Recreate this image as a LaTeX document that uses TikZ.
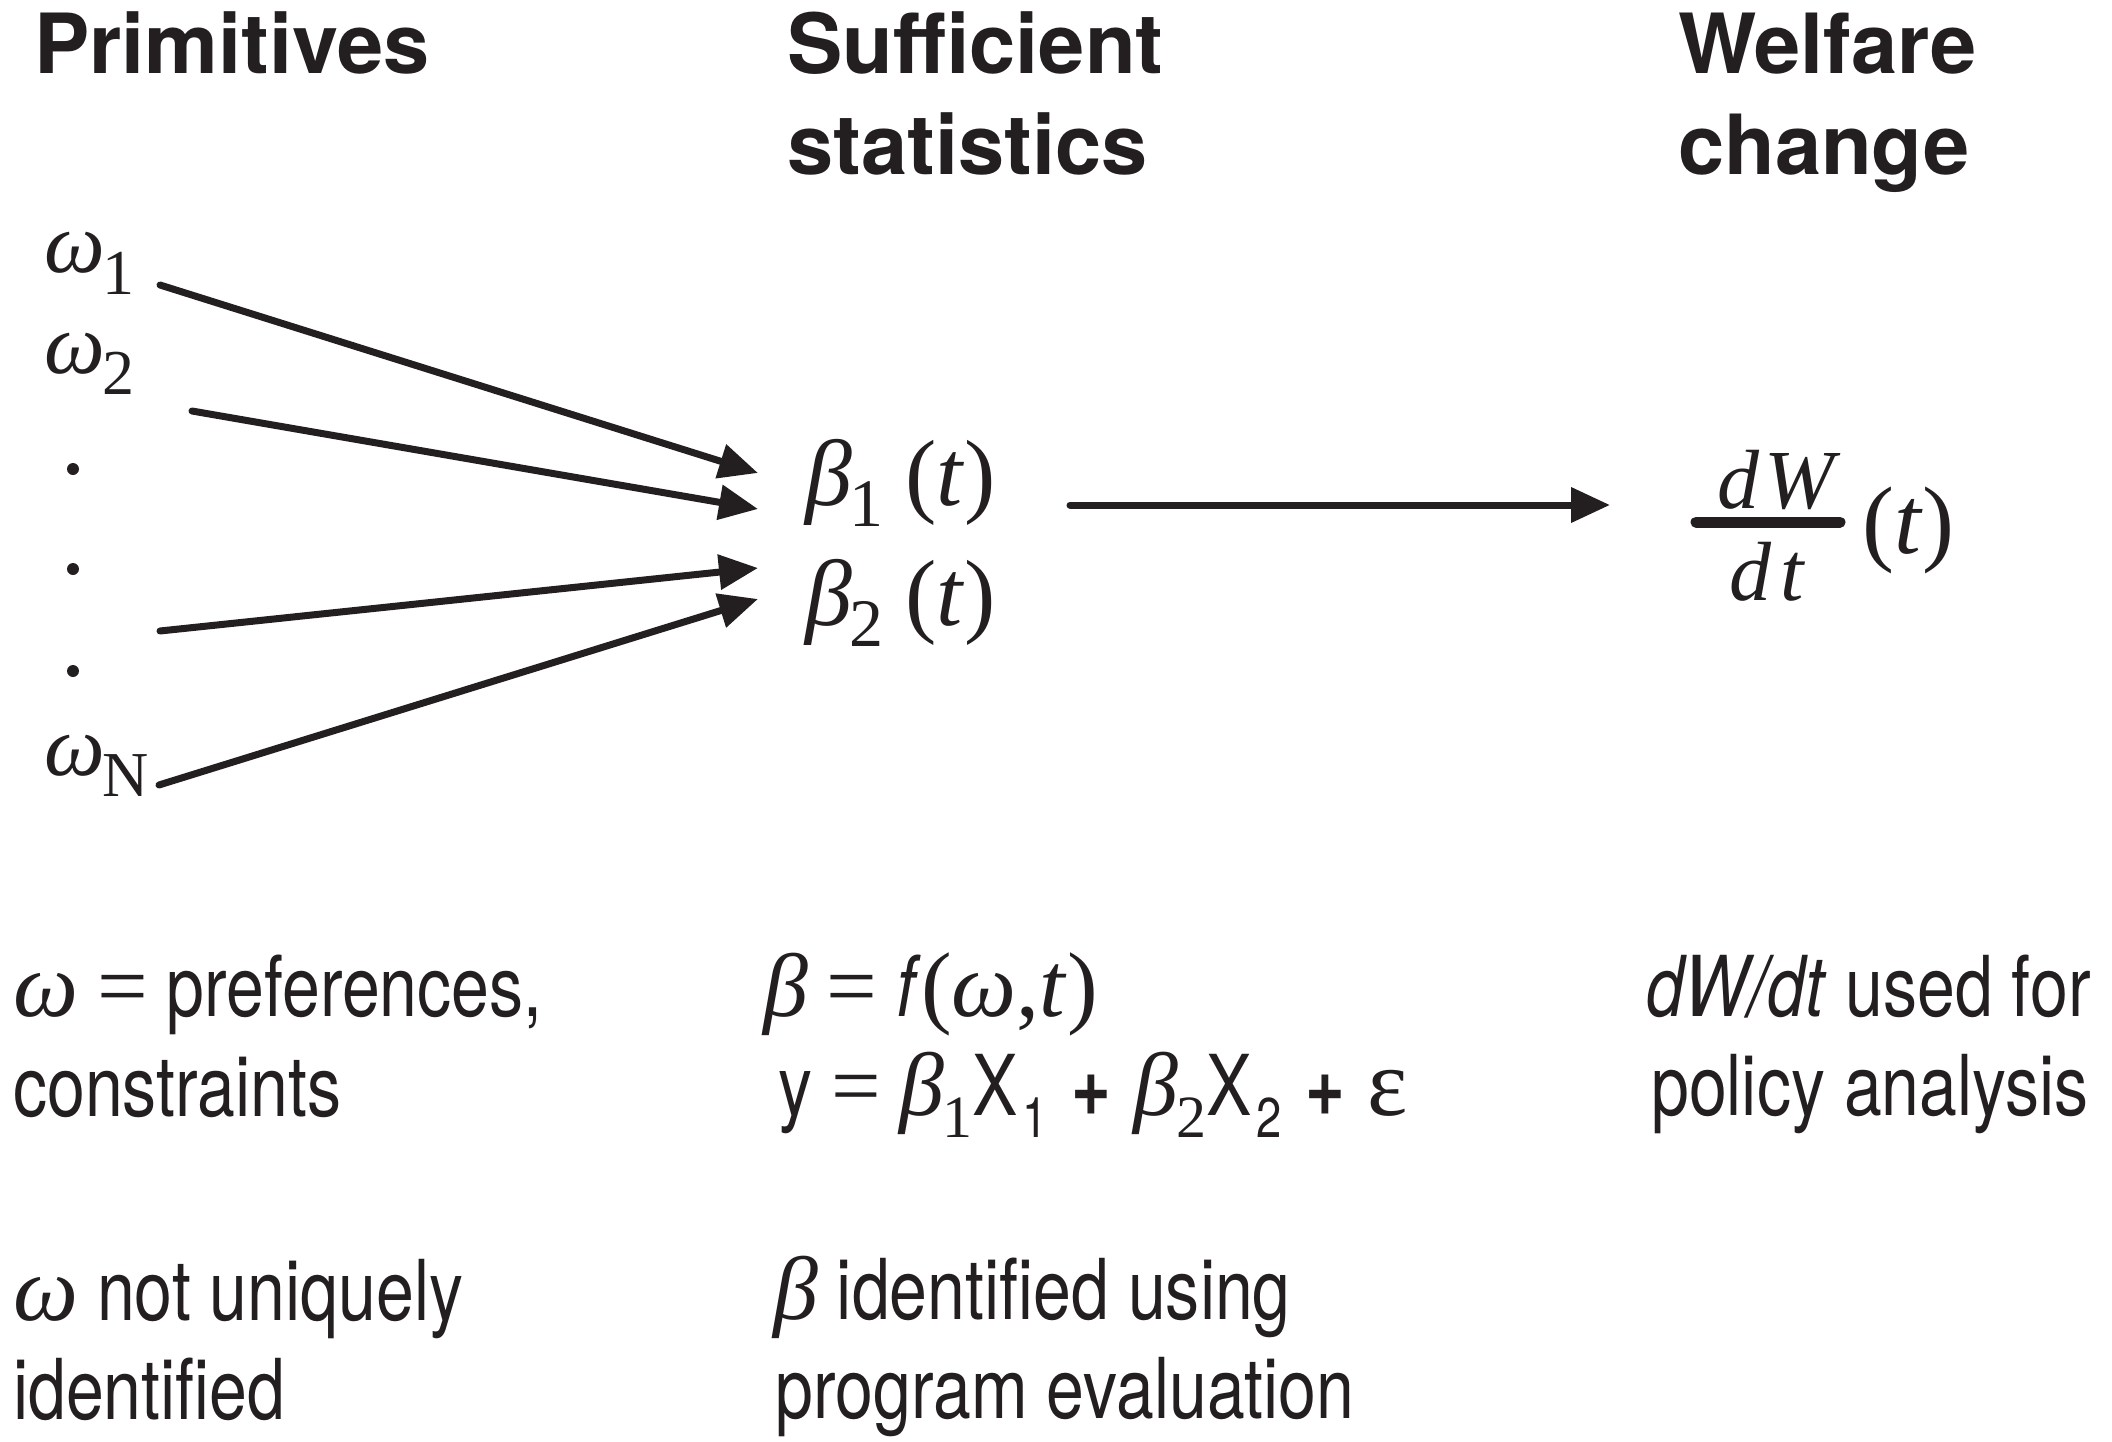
\documentclass[tikz,border=0pt]{standalone}
\usepackage{fontspec}
\usetikzlibrary{arrows.meta}
\newfontfamily\heros{TeX Gyre Heros}
\newfontfamily\condfam[FakeStretch=0.81]{TeX Gyre Heros}
\newfontfamily\tms{Liberation Serif}
\definecolor{ink}{HTML}{231F20}
\newcommand\hfont{\heros\bfseries\fontsize{83}{101}\selectfont}
\newcommand\cfont{\condfam\fontsize{84}{99}\selectfont}
\newcommand\gk[2]{{\tms\itshape\fontsize{#1}{#1}\selectfont #2}}
\newcommand\tup[2]{{\tms\fontsize{#1}{#1}\selectfont #2}}
\newcommand\rsub[3]{\raisebox{-#1}{\tms\fontsize{#2}{#2}\selectfont #3}}
\newcommand\csub[2]{\kern5pt\raisebox{-#1}{\condfam\fontsize{56}{56}\selectfont #2}}
\newcommand\plus{\kern4pt{\condfam\bfseries +}\kern4pt}
\begin{document}
\begin{tikzpicture}[x=1pt,y=-1pt,
  hdr/.style={anchor=base west, inner sep=0pt, font=\hfont, text=ink},
  lbl/.style={anchor=base west, inner sep=0pt, font=\cfont, text=ink},
  sym/.style={anchor=base west, inner sep=0pt, text=ink},
  dotnode/.style={circle, fill=ink, inner sep=0pt, minimum size=12pt},
  conn/.style={-{Triangle[length=39pt,width=34pt]}, line width=7pt, line cap=round, draw=ink, fill=ink},
]
\useasboundingbox (0,0) rectangle (2112,1442);

% headers
\node[hdr] (h1) at (34,74) {Primitives};
\node[hdr] (h2a) at (787,74) {Sufficient};
\node[hdr] (h2b) at (787,175) {statistics};
\node[hdr] (h3a) at (1678,74) {Welfare};
\node[hdr] (h3b) at (1678,175) {change};

% primitives
\node[sym] (w1) at (44,272) {\gk{86}{ω}\kern-2pt\rsub{22pt}{64}{1}};
\node[sym] (w2) at (44,373) {\gk{86}{ω}\kern-2pt\rsub{21pt}{64}{2}};
\node[dotnode] (p1) at (73,469) {};
\node[dotnode] (p2) at (73,569) {};
\node[dotnode] (p3) at (73,671) {};
\node[sym] (wN) at (44,775) {\gk{86}{ω}\kern-2pt\rsub{21pt}{64}{N}};

% sufficient statistics
\node[sym] (b1) at (805,505) {\gk{94}{β}\kern-3pt\rsub{21pt}{68}{1}\hspace{22pt}\tup{94}{(\textit{t})}};
\node[sym] (b2) at (805,625) {\gk{94}{β}\kern-3pt\rsub{21pt}{68}{2}\hspace{22pt}\tup{94}{(\textit{t})}};

% welfare change
\node[anchor=base, inner sep=0pt, text=ink] (dW) at (1776,508) {\gk{84}{d\kern5pt W}};
\node[anchor=base, inner sep=0pt, text=ink] (dt) at (1767,600) {\gk{84}{d\kern9pt t}};
\node[sym] (pt) at (1862,553) {\tup{96}{(\textit{t})}};
\coordinate (fb1) at (1696,522);
\coordinate (fb2) at (1840,522);
\draw[ink, line width=11pt, line cap=round] (fb1) -- (fb2);

% arrows
\coordinate (a1s) at (160,285);  \coordinate (a1e) at (758,473);
\coordinate (a2s) at (192,411);  \coordinate (a2e) at (758,509);
\coordinate (a3s) at (160,631);  \coordinate (a3e) at (758,568);
\coordinate (a4s) at (159,785);  \coordinate (a4e) at (758,599);
\coordinate (ms) at (1070,505);  \coordinate (me) at (1610,505);
\draw[conn] (a1s) -- (a1e);
\draw[conn] (a2s) -- (a2e);
\draw[conn] (a3s) -- (a3e);
\draw[conn] (a4s) -- (a4e);
\draw[conn] (ms) -- (me);

% bottom text
\node[lbl] (l1) at (13,1016) {\gk{92}{ω} \tup{90}{=} preferences,};
\node[lbl] (l2) at (13,1116) {constraints};
\node[lbl] (l3) at (13,1320) {\gk{92}{ω} not uniquely};
\node[lbl] (l4) at (13,1419) {identified};

\node[lbl] (m1) at (763,1016) {\gk{90}{β} \tup{90}{=} \textit{f}\tup{92}{(\textit{ω},\textit{t})}};
\node[lbl] (m2) at (778,1115) {y \tup{88}{=} \gk{90}{β}\kern-2pt\rsub{22pt}{60}{1}X\csub{22pt}{1} \plus{} \gk{90}{β}\kern-2pt\rsub{22pt}{60}{2}X\csub{22pt}{2} \plus{} \tup{96}{ε}};
\node[lbl] (m3) at (773,1319) {\gk{90}{β} identified using};
\node[lbl] (m4) at (775,1418) {program evaluation};

\node[lbl] (r1) at (1646,1016) {\textit{dW/dt} used for};
\node[lbl] (r2) at (1651,1115) {policy analysis};
\end{tikzpicture}
\end{document}
